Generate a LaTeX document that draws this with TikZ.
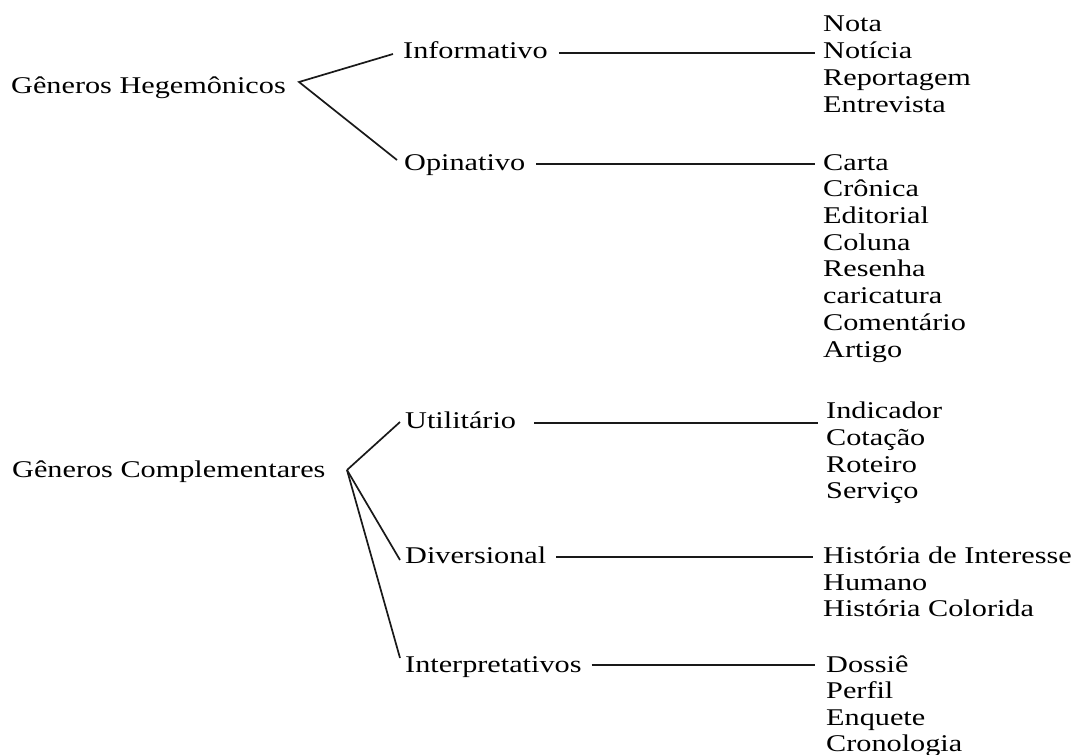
\documentclass[tikz,border=0pt]{standalone}
\usepackage{fontspec}
\setmainfont{Liberation Serif}[FakeStretch=1.26]
\begin{document}
\begin{tikzpicture}[x=1pt,y=-1pt,
  lbl/.style={anchor=base west, inner sep=0pt, font=\fontsize{24}{28}\selectfont},
  conn/.style={line width=1.7pt, black!90}]
\useasboundingbox (0,0) rectangle (1077,755);
% roots
\node[lbl] (heg) at (11,93) {Gêneros Hegemônicos};
\node[lbl] (com) at (12,477) {Gêneros Complementares};
% categories
\node[lbl] (inf) at (403,58) {Informativo};
\node[lbl] (opi) at (404,170) {Opinativo};
\node[lbl] (uti) at (405,428) {Utilitário};
\node[lbl] (div) at (405,563) {Diversional};
\node[lbl] (int) at (405,672) {Interpretativos};
% lists
\node[lbl] (i1) at (823,31) {Nota};
\node[lbl] (i2) at (823,58) {Notícia};
\node[lbl] (i3) at (823,85) {Reportagem};
\node[lbl] (i4) at (823,112) {Entrevista};
\node[lbl] (o1) at (823,170) {Carta};
\node[lbl] (o2) at (823,196.7) {Crônica};
\node[lbl] (o3) at (823,223.4) {Editorial};
\node[lbl] (o4) at (823,250.1) {Coluna};
\node[lbl] (o5) at (823,276.8) {Resenha};
\node[lbl] (o6) at (823,303.5) {caricatura};
\node[lbl] (o7) at (823,330.2) {Comentário};
\node[lbl] (o8) at (823,357) {Artigo};
\node[lbl] (u1) at (826,418) {Indicador};
\node[lbl] (u2) at (826,445) {Cotação};
\node[lbl] (u3) at (826,472) {Roteiro};
\node[lbl] (u4) at (826,498) {Serviço};
\node[lbl] (d1) at (823,563) {História de Interesse};
\node[lbl] (d2) at (823,590) {Humano};
\node[lbl] (d3) at (823,616) {História Colorida};
\node[lbl] (t1) at (826,672) {Dossiê};
\node[lbl] (t2) at (826,698.5) {Perfil};
\node[lbl] (t3) at (826,725) {Enquete};
\node[lbl] (t4) at (826,751) {Cronologia};
% apexes
\coordinate (hegA) at (299,82);
\coordinate (comA) at (347,470);
% branch lines
\draw[conn] ([xshift=-10pt,yshift=4pt]inf.base west) -- (hegA) -- ([xshift=-7pt,yshift=10pt]opi.base west);
\draw[conn] ([xshift=-5pt,yshift=6pt]uti.base west) -- (comA);
\draw[conn] (comA) -- ([xshift=-5pt,yshift=3pt]div.base west);
\draw[conn] (comA) -- ([xshift=-5pt,yshift=14pt]int.base west);
% horizontal connectors
\coordinate (i2L) at ([xshift=-8pt]i2.base west);
\coordinate (o1L) at ([xshift=-8pt]o1.base west);
\coordinate (u1L) at ([xshift=-8pt]u1.base west);
\coordinate (d1L) at ([xshift=-10pt]d1.base west);
\coordinate (t1L) at ([xshift=-11pt]t1.base west);
\draw[conn] ([xshift=11pt,yshift=5pt]inf.base east) coordinate (a1) -- (a1 -| i2L);
\draw[conn] ([xshift=11pt,yshift=6pt]opi.base east) coordinate (a2) -- (a2 -| o1L);
\draw[conn] ([xshift=18pt,yshift=5pt]uti.base east) coordinate (a3) -- (a3 -| u1L);
\draw[conn] ([xshift=10pt,yshift=6pt]div.base east) coordinate (a4) -- (a4 -| d1L);
\draw[conn] ([xshift=10pt,yshift=7pt]int.base east) coordinate (a5) -- (a5 -| t1L);
\end{tikzpicture}
\end{document}
